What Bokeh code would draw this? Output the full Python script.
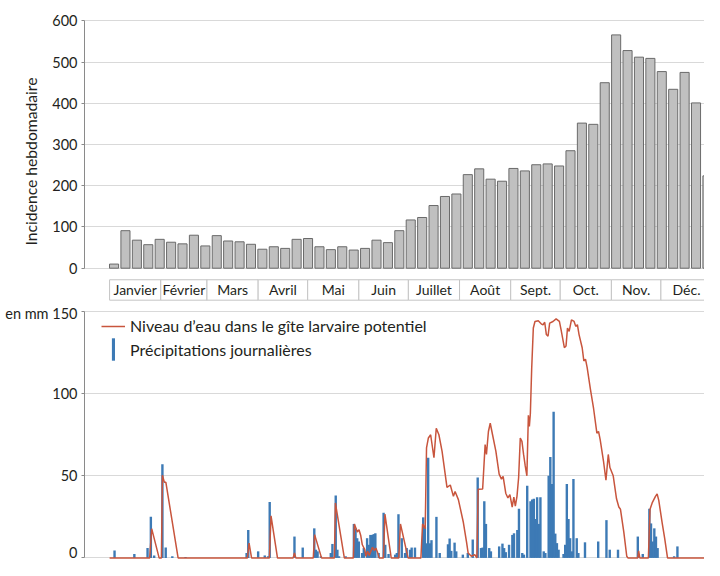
from bokeh.plotting import figure
from bokeh.models import Range1d, FixedTicker, Legend, LegendItem
from bokeh.layouts import column
from bokeh.embed import file_html
from bokeh.resources import INLINE
from bokeh.core.properties import value

# ---------------- data ----------------
weekly_incidence = [10, 91, 68, 57, 70, 63, 59, 80, 54, 79, 66, 64, 58, 46, 52, 48, 70, 72,
                    52, 45, 52, 44, 48, 68, 62, 91, 117, 123, 152, 174, 180, 227, 241, 216,
                    211, 242, 236, 251, 253, 248, 285, 352, 349, 450, 566, 528, 512, 509,
                    477, 434, 475, 401, 224]

month_labels = ["Janvier", "Février", "Mars", "Avril", "Mai", "Juin", "Juillet", "Août",
                "Sept.", "Oct.", "Nov.", "Déc."]
month_lengths = [31, 28, 31, 30, 31, 30, 31, 31, 30, 31, 30, 31]

incidence_ticks = [0, 100, 200, 300, 400, 500, 600]
mm_ticks = [0, 50, 100, 150]

rain_day = [
    3, 15, 23, 25, 27, 32, 34, 38, 46,
    83, 84, 90, 94, 96, 97, 112, 117,
    124, 125, 126, 128, 134, 135, 137, 138, 139, 143,
    148, 149, 150, 151, 153, 154, 156, 157, 158, 159, 160, 161, 163,
    166, 167, 169, 173, 174, 175, 177, 179, 180, 182, 183, 185,
    190, 191, 192, 193, 194, 195, 198, 200, 205, 206, 207, 209, 210, 214, 217, 220,
    223, 225, 226, 227, 228, 230, 231, 236, 238, 239, 240, 242, 244, 245, 247, 248, 250, 251,
    253, 255, 256, 257, 258, 259, 260, 261, 263, 264, 266, 267, 268, 269, 270, 271, 272,
    275, 276, 277, 278, 279, 280, 281, 283, 284, 288, 296, 301, 303, 308,
    320, 323, 327, 328, 329, 330, 331, 332, 342, 344,
]
rain_mm = [
    4.5, 2.4, 6, 25, 1.5, 57, 6.3, 1, 0.5,
    3, 17, 4, 1.5, 1, 34, 13, 6.3,
    18, 5, 4, 1, 3, 8.5, 38, 5, 1, 1,
    20.7, 18, 12, 10, 3, 6, 12, 8, 14, 14, 14.5, 15, 3,
    27.5, 8, 2.4, 2, 3, 26.6, 12, 3, 6, 5, 6.3, 6.3,
    24.7, 18.7, 8.9, 61, 8.9, 10.8, 25, 3, 8.3, 11.8, 4.3, 9.3, 4, 2, 3, 11.2,
    49, 6, 6.3, 34.5, 20.7, 6, 4, 7, 8.7, 6, 3.5, 8, 14, 15, 17, 30, 3, 2,
    44, 34.5, 35.5, 36, 23.7, 37, 20.7, 37, 4, 3, 50, 61.5, 45, 89, 14.8, 9, 5,
    2.4, 8, 45, 23.7, 12, 4, 48, 12, 3, 9.5, 10, 23, 5, 5,
    13, 2.4, 30, 21, 10, 18, 13, 6, 1, 7,
]

level_day = [
    0, 24.3, 25.5, 30, 31.4, 32, 33.2, 34.1, 41.5,
    83.5, 84.5, 86, 96.8, 97.8, 101.7, 111.2, 112, 112.8,
    123.4, 124.2, 128.4, 136.2, 136.8, 142.2,
    147.7, 148.3, 150.1, 151.1, 152.1, 153.1, 154.6, 155.3, 156.3, 157.3, 158.3, 159.3, 160.3, 161.3, 162.3, 163.3,
    165.9, 166.8, 170.6, 175.2, 176.2, 180.8,
    188.6, 189.6, 191.2, 192, 193.1, 194.5, 196.5, 197.9, 199.5, 201.4, 204.4,
    206.4, 208.3, 209.3, 211.3, 214.3, 216.2, 217.2, 219.2, 221.2, 222.5,
    223.3, 226, 227.5, 228.3, 229.5, 230.6, 232, 234, 236, 237.4, 238.4, 240,
    241.3, 242.5, 243.9, 244.9, 245.8, 246.8, 247.8, 248.8, 249.8, 250.8, 251.8, 252.8,
    253.7, 254.3, 254.9, 255.7, 256.7, 257.7, 259.7, 261.6, 262.6, 263.6, 264.6, 265.6,
    266.6, 268.6, 270.5, 272.5, 273.5, 275.5, 276.5, 277.4, 278.4, 279.8, 281.4, 282.4,
    283.4, 284.4, 286.3, 287.3, 288.3, 289.3, 291.3, 293.2, 295.2, 296.2, 297.2, 299.2,
    300.7, 302.1, 303.1, 305.1, 307.1, 308.5, 309.5, 311.5, 313.3, 314,
    320, 320.5, 321.2, 326.4, 327.4, 328.7, 330.7, 331.7, 332.7, 334.7, 336.3, 338, 365,
]
level_mm = [
    0, 0, 17.8, 0, 0, 50.3, 46, 46, 0,
    0, 9, 0, 0, 25.6, 0, 0, 3, 0,
    0, 14.2, 0, 0, 33.5, 0,
    0, 20.7, 15.8, 17.2, 13.8, 8, 5, 1, 4, 1.5, 4, 6.5, 4.5, 6, 3.5, 0,
    0, 26.6, 0, 0, 20.7, 0,
    0, 20.7, 17.8, 67, 73, 75, 61, 79, 75, 65, 43,
    44.4, 37.5, 40.4, 35.5, 21.7, 9.9, 3, 1, 2, 0,
    41.8, 42, 69, 63, 77, 82, 75, 65, 51, 48, 49.7, 39.4,
    36.5, 38.5, 31, 37, 31.6, 37.5, 49, 73, 71, 63, 56, 50,
    86.8, 80, 87.8, 115, 140, 144, 144.4, 142.4, 142, 143.5, 136, 135,
    143, 144, 145.6, 144, 139, 128, 129, 140, 138, 145, 144, 141,
    142, 136, 128, 120, 121, 116, 102.6, 91, 76, 77, 72, 59,
    47.3, 63, 55, 50, 36, 31, 29.6, 15.8, 1, 0,
    0, 4.3, 0, 0, 29.6, 33.5, 37.5, 39, 35, 21.7, 11.8, 0, 0,
]

# ---------------- style ----------------
FONT = "Lato"
TXT = "#231f20"
GRID = "#d9d9d9"
AXIS = "#8a8a8a"
WEEK_SPAN = 6.913   # days per weekly bar slot
WEEK_OFFSET = 2.7

x_range = Range1d(-15.2, 360.4)


def style_yaxis(p, ticks, bounds):
    p.outline_line_color = None
    p.xaxis.visible = False
    p.xgrid.visible = False
    p.ygrid.ticker = FixedTicker(ticks=ticks)
    p.ygrid.grid_line_color = GRID
    p.yaxis.ticker = FixedTicker(ticks=ticks)
    p.yaxis.bounds = bounds
    p.yaxis.major_label_text_font = FONT
    p.yaxis.major_label_text_font_size = "14.5px"
    p.yaxis.major_label_text_color = TXT
    p.yaxis.major_label_standoff = 4
    p.yaxis.axis_line_color = AXIS
    p.yaxis.major_tick_line_color = AXIS
    p.yaxis.major_tick_out = 3
    p.yaxis.major_tick_in = 0
    p.yaxis.minor_tick_line_color = None


# ---------------- top chart ----------------
top = figure(width=704, height=304, x_range=x_range, y_range=Range1d(-88.1, 605.8),
             output_backend="svg", toolbar_location=None,
             min_border_left=84, min_border_right=0, min_border_top=18, min_border_bottom=0)
style_yaxis(top, incidence_ticks, (0, 600))
top.yaxis.axis_label = "Incidence hebdomadaire"
top.yaxis.axis_label_text_font = FONT
top.yaxis.axis_label_text_font_style = "normal"
top.yaxis.axis_label_text_font_size = "15.7px"
top.yaxis.axis_label_text_color = TXT
top.yaxis.axis_label_standoff = 9

week_x = [WEEK_OFFSET + WEEK_SPAN * i for i in range(len(weekly_incidence))]
top.vbar(x=week_x, top=weekly_incidence, bottom=0, width=5.5,
         fill_color="#c0c0c0", line_color="#6a6a6a", line_width=1)

starts, ends, centers = [], [], []
acc = 0
for n in month_lengths:
    starts.append(acc)
    ends.append(acc + n)
    centers.append(acc + n / 2)
    acc += n
top.quad(left=starts, right=ends, bottom=-77.6, top=-28.1,
         fill_color="white", line_color="#c4c4c4", line_width=1)
top.text(x=centers, y=[-52.6] * len(centers), text=month_labels,
         text_align="center", text_baseline="middle",
         text_font=value(FONT), text_font_size="14px", text_color=TXT)

# ---------------- bottom chart ----------------
bot = figure(width=704, height=256, x_range=x_range, y_range=Range1d(-1.58, 151.28),
             output_backend="svg", toolbar_location=None,
             min_border_left=84, min_border_right=0, min_border_top=5, min_border_bottom=0)
style_yaxis(bot, mm_ticks, (0, 150))
bot.yaxis.major_label_overrides = {150: "en mm 150"}

rain_r = bot.vbar(x=rain_day, top=rain_mm, bottom=0, width=1.45,
                  fill_color="#3d7ab5", line_color=None)
level_r = bot.line(x=level_day, y=level_mm, line_color="#c8553d", line_width=1.5)

leg1 = Legend(items=[LegendItem(label="Niveau d’eau dans le gîte larvaire potentiel",
                                renderers=[level_r])],
              location=(17, 225), glyph_width=24, glyph_height=16, label_height=16,
              label_standoff=5, padding=0, margin=0, spacing=0,
              border_line_color=None, background_fill_alpha=0,
              label_text_font=FONT, label_text_font_size="16px", label_text_color=TXT)
leg2 = Legend(items=[LegendItem(label="Précipitations journalières", renderers=[rain_r])],
              location=(27, 197), glyph_width=4, glyph_height=28, label_height=28,
              label_standoff=15, padding=0, margin=0, spacing=0,
              border_line_color=None, background_fill_alpha=0,
              label_text_font=FONT, label_text_font_size="16px", label_text_color=TXT)
bot.add_layout(leg1)
bot.add_layout(leg2)

layout = column(top, bot)
open("out.html", "w").write(file_html(layout, INLINE))
